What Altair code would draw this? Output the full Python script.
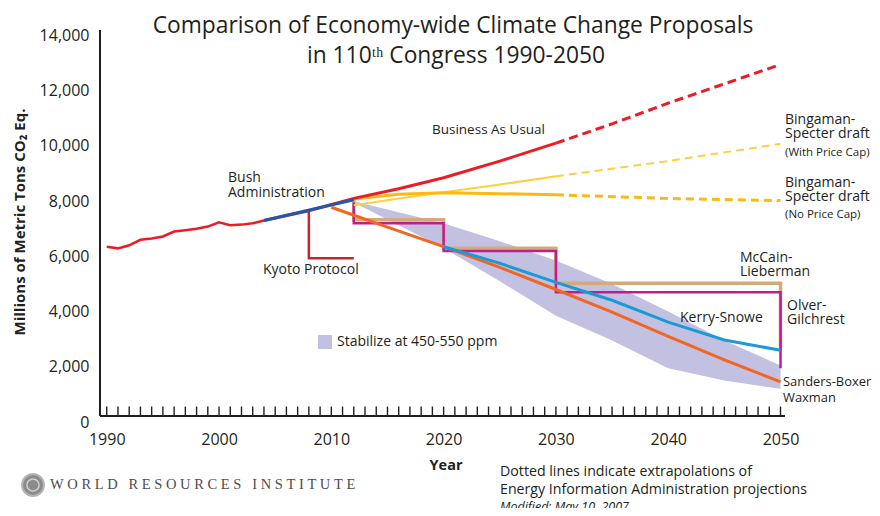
import altair as alt
import pandas as pd

# ---------------- data ----------------
hist_years = [1990, 1991, 1992, 1993, 1994, 1995, 1996, 1997, 1998, 1999, 2000, 2001, 2002, 2003, 2004]
hist_vals = [6350, 6290, 6400, 6600, 6650, 6720, 6900, 6950, 7000, 7080, 7230, 7130, 7150, 7200, 7300]

bau_years = [2004, 2008, 2012, 2016, 2020, 2025, 2030]
bau_vals = [7300, 7650, 8100, 8450, 8850, 9450, 10100]
bau_proj_years = [2030, 2035, 2040, 2045, 2050]
bau_proj_vals = [10100, 10800, 11550, 12250, 12950]

bush_years = [2004, 2012]
bush_vals = [7300, 8050]

kyoto_years = [2008, 2008, 2012]
kyoto_vals = [7650, 5930, 5930]

bs_cap_years = [2012, 2016, 2020, 2025, 2030]
bs_cap_vals = [7850, 8100, 8320, 8600, 8900]
bs_cap_proj_years = [2030, 2040, 2050]
bs_cap_proj_vals = [8900, 9450, 10080]

bs_nocap_years = [2012, 2016, 2020, 2025, 2030]
bs_nocap_vals = [8080, 8250, 8300, 8270, 8230]
bs_nocap_proj_years = [2030, 2040, 2050]
bs_nocap_proj_vals = [8230, 8100, 8020]

mccain_years = [2012, 2012, 2020, 2020, 2030, 2030, 2050, 2050]
mccain_vals = [8050, 7330, 7330, 6290, 6290, 5030, 5030, 2600]

olver_years = [2012, 2012, 2020, 2020, 2030, 2030, 2050, 2050]
olver_vals = [7950, 7200, 7200, 6190, 6190, 4700, 4700, 1950]

sanders_years = [2010, 2015, 2020, 2025, 2030, 2035, 2040, 2045, 2050]
sanders_vals = [7780, 7060, 6350, 5600, 4800, 3980, 3100, 2250, 1450]

kerry_years = [2020, 2025, 2030, 2035, 2040, 2045, 2050]
kerry_vals = [6350, 5750, 5060, 4410, 3620, 2970, 2600]

band_years = [2012, 2020, 2025, 2030, 2035, 2040, 2045, 2050]
band_upper = [8000, 7200, 6550, 5850, 5000, 4000, 2950, 2050]
band_lower = [7950, 6300, 5100, 3850, 2950, 1950, 1500, 1200]

tick_years = list(range(1990, 2051))
x_label_years = [1990, 2000, 2010, 2020, 2030, 2040, 2050]
y_label_vals = [0, 2000, 4000, 6000, 8000, 10000, 12000, 14000]

# ---------------- setup ----------------
FONT = "Open Sans"
DARK = "#231f20"
W, H = 685, 392
LEFT, TOP = 92, 22
TOTAL_W, TOTAL_H = 864, 500

xs = alt.Scale(domain=[1989.4, 2050.4], nice=False, zero=False)
ys = alt.Scale(domain=[0, 14200], nice=False, zero=False)

AX_X = alt.Axis(values=x_label_years, format="d", domain=False, ticks=False,
                grid=False, labelPadding=9, title=None, labelFontSize=16,
                labelColor=DARK, labelFont=FONT)
AX_Y = alt.Axis(values=y_label_vals, format=",d", domain=False, ticks=False,
                grid=False, labelPadding=11, title=None, labelFontSize=16,
                labelColor=DARK, labelFont=FONT)


def X(field="year:Q"):
    return alt.X(field, scale=xs, axis=AX_X)


def Y(field="value:Q"):
    return alt.Y(field, scale=ys, axis=AX_Y)


def line(years, vals, color, width, dash=None):
    df = pd.DataFrame({"year": years, "value": vals, "i": list(range(len(years)))})
    kw = dict(color=color, strokeWidth=width, strokeCap="butt", strokeJoin="miter")
    if dash:
        kw["strokeDash"] = dash
    return alt.Chart(df).mark_line(**kw).encode(x=X(), y=Y(), order="i:Q")


def txt(s, px, py, size=14, align="left", weight="normal", style="normal",
        color=DARK, angle=None, font=FONT, baseline="middle", lh=None):
    kw = dict(text=s, fontSize=size, align=align, baseline=baseline,
              fontWeight=weight, fontStyle=style, color=color, font=font)
    if angle is not None:
        kw["angle"] = angle
    if lh is not None:
        kw["lineHeight"] = lh
    return alt.Chart(alt.Data(values=[{}])).mark_text(**kw).encode(
        x=alt.value(px - 100), y=alt.value(py - 30))


# yearly ticks (carry the axes' labels)
ticks_df = pd.DataFrame({"year": tick_years})
axis_layer = alt.Chart(ticks_df).mark_rule(color=DARK, strokeWidth=1.4).encode(
    x=X(),
    y=alt.Y(datum=220, scale=ys, axis=AX_Y),
    y2=alt.datum(560),
)

x_axis_line = alt.Chart(alt.Data(values=[{}])).mark_rule(color=DARK, strokeWidth=2).encode(
    x=alt.value(0), x2=alt.value(W), y=alt.Y(datum=220, scale=ys, axis=AX_Y))
y_axis_line = alt.Chart(alt.Data(values=[{}])).mark_rule(color=DARK, strokeWidth=2).encode(
    x=alt.value(0), y=alt.Y(datum=220, scale=ys, axis=AX_Y), y2=alt.datum(14200))

band_df = pd.DataFrame({"year": band_years, "lo": band_lower, "hi": band_upper})
band = alt.Chart(band_df).mark_area(color="#c3c1e2", opacity=1).encode(
    x=X(), y=Y("lo:Q"), y2="hi:Q")

legend_sq = alt.Chart(alt.Data(values=[{}])).mark_square(
    color="#c3c1e2", size=196, opacity=1).encode(x=alt.value(225), y=alt.value(312))

logo = alt.Chart(alt.Data(values=[{}])).mark_point(
    shape="circle", filled=True, color="#8c8c8c", size=480, opacity=1,
    stroke="#b5b5b5", strokeWidth=2).encode(x=alt.value(-67), y=alt.value(455))
logo_in = alt.Chart(alt.Data(values=[{}])).mark_point(
    shape="circle", filled=False, color="#d0d0d0", size=150, opacity=1,
    strokeWidth=1.5).encode(x=alt.value(-67), y=alt.value(455))

NB = "\u00a0"
wri = (NB * 3).join(NB.join(list(w)) for w in ["WORLD", "RESOURCES", "INSTITUTE"])

layers = [
    axis_layer,
    band,
    line(mccain_years, mccain_vals, "#d4aa7d", 3.5),
    line(olver_years, olver_vals, "#bf1e8e", 2.5),
    line(bs_cap_years, bs_cap_vals, "#ffcf3f", 2),
    line(bs_cap_proj_years, bs_cap_proj_vals, "#ffcf3f", 2, [8, 5]),
    line(bs_nocap_years, bs_nocap_vals, "#fdb913", 3),
    line(bs_nocap_proj_years, bs_nocap_proj_vals, "#fdb913", 3, [8, 5]),
    line(hist_years, hist_vals, "#ed1c24", 2.5),
    line(bau_years, bau_vals, "#ed1c24", 3),
    line(bau_proj_years, bau_proj_vals, "#ed1c24", 3, [9, 5]),
    line(bush_years, bush_vals, "#1f5aa8", 3),
    line(kyoto_years, kyoto_vals, "#c1272d", 2.5),
    line(sanders_years, sanders_vals, "#f26522", 3),
    line(kerry_years, kerry_vals, "#1c9ad6", 3),
    x_axis_line,
    y_axis_line,
    legend_sq,
    logo,
    logo_in,
    # titles
    txt("Comparison of Economy-wide Climate Change Proposals", 453, 33, size=22.8,
        align="center", baseline="alphabetic"),
    txt("in 110ᵗʰ Congress 1990-2050", 456, 63, size=22.8, align="center",
        baseline="alphabetic"),
    txt("Millions of Metric Tons CO₂ Eq.", 20, 222, size=15, align="center",
        weight="bold", angle=270),
    txt("Year", 446, 466, size=14.5, align="center", weight="bold"),
    # annotations
    txt("Business As Usual", 432, 130, size=13.5),
    txt(["Bush", "Administration"], 228, 178, lh=15),
    txt("Kyoto Protocol", 263, 270),
    txt("Stabilize at 450-550 ppm", 337, 342),
    txt(["Bingaman-", "Specter draft"], 785, 120, lh=14),
    txt("(With Price Cap)", 785, 153, size=11.5),
    txt(["Bingaman-", "Specter draft"], 785, 183, lh=14),
    txt("(No Price Cap)", 785, 215, size=11.5),
    txt(["McCain-", "Lieberman"], 740, 258, lh=14),
    txt(["Olver-", "Gilchrest"], 787, 306, lh=14),
    txt("Kerry-Snowe", 680, 318),
    txt(["Sanders-Boxer", "Waxman"], 783, 382, size=12.9, lh=16),
    # footer
    txt(wri, 50, 485, size=14.5, color="#4d4d4d", font="Liberation Serif"),
    txt(["Dotted lines indicate extrapolations of",
         "Energy Information Administration projections"], 500, 472, size=14.2, lh=18),
    txt("Modified: May 10, 2007", 500, 507, size=12.5, style="italic"),
]

chart = alt.layer(*layers).properties(
    width=W, height=H,
    autosize=alt.AutoSizeParams(type="none"),
    padding={"left": LEFT, "top": TOP, "right": TOTAL_W - LEFT - W,
             "bottom": TOTAL_H - TOP - H},
    background="white",
).configure_view(stroke=None)

chart.save("out.html", embed_options={"renderer": "svg", "actions": False})
